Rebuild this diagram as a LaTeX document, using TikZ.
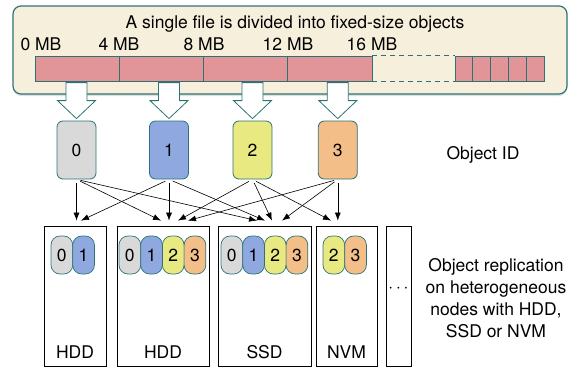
\documentclass[tikz,border=0pt]{standalone}
\usepackage{fontspec}
\setmainfont{TeX Gyre Heros}
\usetikzlibrary{arrows.meta, calc, shadows}

\definecolor{teal0}{RGB}{45,115,118}
\definecolor{paper}{RGB}{246,239,219}
\definecolor{chunk}{RGB}{226,149,152}
\definecolor{obj0}{RGB}{217,217,217}
\definecolor{obj1}{RGB}{143,168,224}
\definecolor{obj2}{RGB}{233,233,130}
\definecolor{obj3}{RGB}{243,190,136}

\begin{document}
\begin{tikzpicture}[x=1pt, y=-1pt,
    every node/.style={font=\fontsize{17.5}{22}\selectfont},
    chunk/.style={draw=teal0, fill=chunk, line width=0.9pt, minimum height=25pt, inner sep=0pt},
    idbox/.style={draw=teal0, line width=0.8pt, rounded corners=6pt, minimum width=39pt, minimum height=58pt},
    fatarrow/.style={draw=teal0, fill=white, line width=0.8pt, line join=miter},
    capsule/.style={draw=teal0, line width=0.7pt, rounded corners=9pt, minimum width=21.7pt, minimum height=38pt, inner sep=0pt},
    store/.style={draw=black, line width=0.8pt, minimum height=140pt, inner sep=0pt},
    link/.style={-{Latex[length=8pt,width=6pt]}, line width=0.6pt, shorten <=4pt}]
    \useasboundingbox (0,0) rectangle (582,368);

    % File
    \draw[draw=teal0, fill=paper, line width=1.2pt, rounded corners=8pt,
          drop shadow={shadow xshift=0pt, shadow yshift=-2pt, opacity=0.25}] (13,6) rectangle (567,94);
    \node[anchor=base] (title) at (295,28) {A single file is divided into fixed-size objects};
    \foreach \x/\t [count=\i] in {41/0 MB, 119/4 MB, 204/8 MB, 288/12 MB, 372/16 MB}
        \node[anchor=base] (mb\i) at (\x,50) {\t};

    % Chunks of the file
    \foreach \i in {0,...,3}
        \node[chunk, minimum width=84.25pt] (seg\i) at (77.125+84.25*\i,68.5) {};
    \foreach \i in {0,...,4}
        \node[chunk, minimum width=17.8pt] (tail\i) at (463.9+17.8*\i,68.5) {};
    \draw[teal0, line width=0.9pt, dash pattern=on 5pt off 4pt] (seg3.north east) -- (tail0.north west);
    \draw[teal0, line width=0.9pt, dash pattern=on 5pt off 4pt] (seg3.south east) -- (tail0.south west);

    % Objects
    \foreach \i/\x in {0/76.5, 1/169, 2/252.5, 3/337.8}
        \node[idbox, fill=obj\i] (id\i) at (\x,150) {\i};
    \foreach \i in {0,...,3}
        \draw[fatarrow] ($(id\i.north)+(-10.5,-38)$) -- ++(21,0) -- ++(0,18) -- ++(8.5,0)
            -- ($(id\i.north)+(0,-2)$) -- ++(-19,-18) -- ++(8.5,0) -- cycle;
    \node (idlabel) at (483,155) {Object ID};

    % Storage nodes
    \node[store, minimum width=62pt] (nA) at (75,296) {};
    \node[store, minimum width=92pt] (nB) at (163,296) {};
    \node[store, minimum width=93pt] (nC) at (264.5,296) {};
    \node[store, minimum width=61pt] (nD) at (346.5,296) {};
    \node[store, minimum width=25pt] (nE) at (398.5,296) {};
    \node (more) at (398.5,289) {$\cdots$};

    \foreach \s/\x/\ids in {nA/51/{0,1}, nB/119/{0,1,2,3}, nC/221/{0,1,2,3}, nD/323/{2,3}}
        \foreach \k [count=\j from 0] in \ids
            \node[capsule, fill=obj\k] (\s-\k) at (\x+10.85+21.7*\j,255) {\k};
    \foreach \s/\t in {nA/HDD, nB/HDD, nC/SSD, nD/NVM}
        \node[anchor=base] (\s-lab) at ($(\s.south)+(0,-8)$) {\t};

    % Replication
    \foreach \a/\b/\d in {0/nA/1.5, 1/nA/6, 0/nB/-2, 1/nB/6, 2/nB/15, 3/nB/25,
                          0/nC/-7.5, 1/nC/0.5, 2/nC/7.5, 3/nC/17.5, 2/nD/-15.5, 3/nD/-8.7}
        \draw[link] (id\a.south) -- ($(\b.north)+(\d,-5)$);

    \node[align=center] (repl) at (496,298) {Object replication\\on heterogeneous\\nodes with HDD,\\SSD or NVM};
\end{tikzpicture}
\end{document}
